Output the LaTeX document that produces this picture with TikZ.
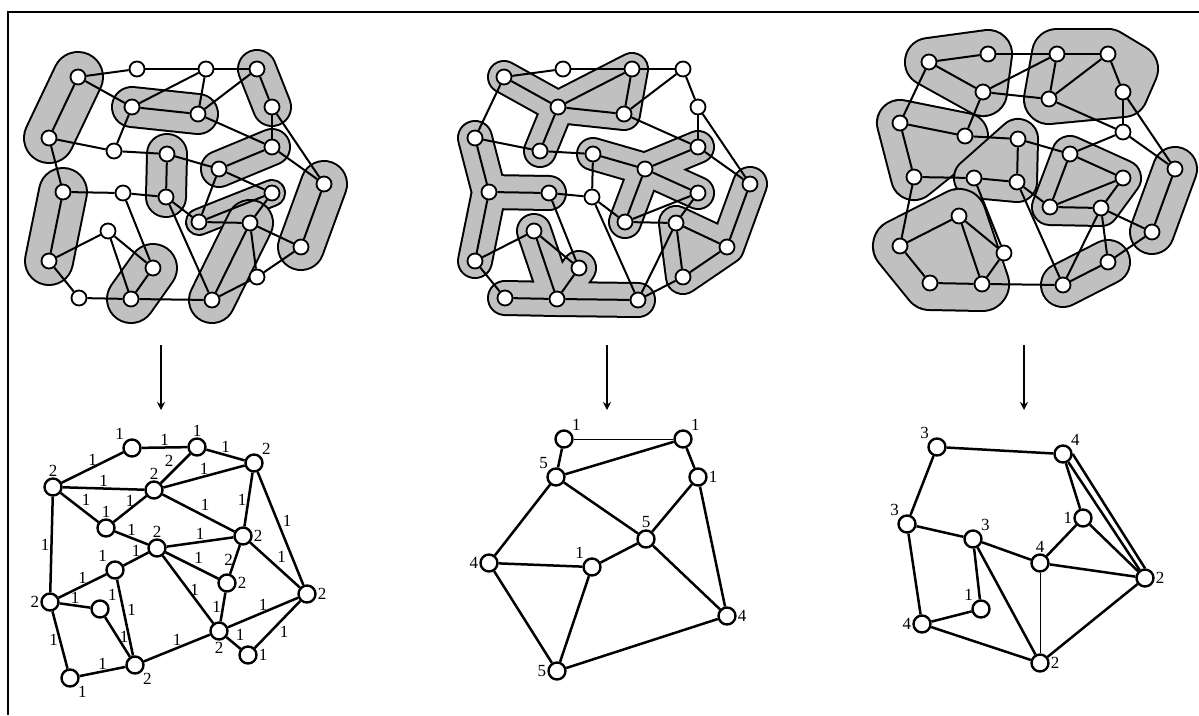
\documentclass[tikz,border=0pt]{standalone}
\usepackage{fontspec}
\setmainfont{Liberation Serif}
\usetikzlibrary{arrows.meta, backgrounds}
\definecolor{clustergrey}{RGB}{192,192,192}

% the 27-vertex graph that all three top pictures share
\newcommand{\basegraph}[1]{%
  \foreach \n/\x/\y in {1/78/77, 2/137/69, 3/206/69, 4/257/69, 5/132/107, 6/198/114,
      7/272/107, 8/49/138, 9/114/151, 10/167/154, 11/272/147, 12/219/169, 13/63/192,
      14/123/193, 15/166/197, 16/272/193, 17/324/184, 18/199/222, 19/250/223,
      20/108/231, 21/301/247, 22/49/261, 23/153/268, 24/257/277, 25/79/298,
      26/131/299, 27/212/300}
    \node[vtx] (#1\n) at (\x,\y) {};
  \foreach \s/\t in {1/2, 2/3, 3/4, 1/5, 5/3, 3/6, 6/4, 4/7, 6/11, 7/11, 7/17, 5/9,
      8/9, 9/10, 1/8, 5/6, 8/13, 10/15, 10/12, 11/12, 11/17, 13/14, 14/15, 13/22,
      14/23, 15/18, 15/27, 12/18, 12/16, 16/18, 18/19, 16/19, 19/21, 17/21, 19/27,
      19/24, 24/21, 24/27, 20/22, 20/23, 20/26, 22/25, 25/26, 26/27, 23/26}
    \draw[link] (#1\s) -- (#1\t);
}
% grey cluster with black rim
\newcommand{\cluster}[2]{%
  \draw[clusterrim, line width=#1+4] #2;
  \draw[clusterbody, line width=#1] #2;
}

\begin{document}
\begin{tikzpicture}[
    x=1pt, y=-1pt,
    vtx/.style={circle, draw, fill=white, line width=1.8pt, minimum size=15pt, inner sep=0pt},
    vtxb/.style={circle, draw, fill=white, line width=2.4pt, minimum size=17pt, inner sep=0pt},
    link/.style={line width=2pt},
    linkb/.style={line width=2.5pt},
    thinlink/.style={line width=1pt},
    wt/.style={font=\fontsize{17}{17}\selectfont, inner sep=1pt},
    flow/.style={-{Stealth[length=8pt, width=8pt]}, line width=2.6pt},
    framelines/.style={line width=2.2pt},
    clusterrim/.style={draw=black, fill=black, line cap=round, line join=round},
    clusterbody/.style={draw=clustergrey, fill=clustergrey, line cap=round, line join=round}
]
\useasboundingbox (0,0) rectangle (1199,715);

% Frame
\draw[framelines] (8,715) -- (8,12) -- (1199,12);

% Top graphs
\basegraph{a}
\begin{scope}[shift={(426,0)}]
  \basegraph{m}
\end{scope}
\begin{scope}[shift={(851,-15)}]
  \basegraph{r}
\end{scope}

% Clusters
\begin{scope}[on background layer]
  % pairs
  \cluster{48}{(a1.center) -- (a8.center)}
  \cluster{38}{(a5.center) -- (a6.center)}
  \cluster{36}{(a4.center) -- (a7.center)}
  \cluster{38}{(a10.center) -- (a15.center)}
  \cluster{34}{(a11.center) -- (a12.center)}
  \cluster{24}{(a16.center) -- (a18.center)}
  \cluster{44}{(a17.center) -- (a21.center)}
  \cluster{46}{(a13.center) -- (a22.center)}
  \cluster{46}{(a23.center) -- (a26.center)}
  \cluster{44}{(a19.center) -- (a27.center)}
  % corridors
  \cluster{30}{(m1.center) -- (m5.center) -- (m9.center) -- (m5.center) -- (m3.center) -- (m6.center) -- (m5.center) -- (m1.center)}
  \cluster{32}{(m8.center) -- (m13.center) -- (m22.center) -- (m13.center) -- (m14.center) -- (m13.center) -- (m8.center)}
  \cluster{30}{(m10.center) -- (m12.center) -- (m11.center) -- (m12.center) -- (m16.center) -- (m12.center) -- (m18.center) -- (m12.center) -- (m10.center)}
  \cluster{32}{(m17.center) -- (m21.center) -- (m24.center) -- (m19.center) -- (m21.center) -- (m17.center)}
  \cluster{32}{(m25.center) -- (m26.center) -- (m20.center) -- (m26.center) -- (m23.center) -- (m26.center) -- (m27.center) -- (m26.center) -- (m25.center)}
  % regions
  \cluster{46}{(r1.center) -- (r2.center) -- (r5.center) -- cycle}
  \cluster{48}{(r3.center) -- (r4.center) -- ([xshift=25pt, yshift=-15pt]r4.center) -- (r7.center) -- (r6.center) -- cycle}
  \cluster{44}{(r8.center) -- (r9.center) -- (r13.center) -- cycle}
  \cluster{38}{(r10.center) -- (r15.center) -- (r14.center) -- cycle}
  \cluster{34}{(r12.center) -- (r16.center) -- (r19.center) -- (r18.center) -- cycle}
  \cluster{42}{(r17.center) -- (r21.center)}
  \cluster{52}{(r20.center) -- (r26.center) -- (r25.center) -- (r22.center) -- cycle}
  \cluster{42}{(r24.center) -- (r27.center)}
\end{scope}

% Arrows
\coordinate (arrA0) at (161,345); \coordinate (arrA1) at (161,410);
\coordinate (arrB0) at (607,345); \coordinate (arrB1) at (607,410);
\coordinate (arrC0) at (1024,345); \coordinate (arrC1) at (1024,410);
\draw[flow] (arrA0) -- (arrA1);
\draw[flow] (arrB0) -- (arrB1);
\draw[flow] (arrC0) -- (arrC1);

% Bottom left
\node[vtxb, label={[wt]above left:1}] (b1) at (132,448) {};
\node[vtxb, label={[wt]above:1}] (b2) at (197,447) {};
\node[vtxb, label={[wt]above right:2}] (b3) at (254,463) {};
\node[vtxb, label={[wt]above:2}] (b4) at (53,487) {};
\node[vtxb, label={[wt]above:2}] (b5) at (154,490) {};
\node[vtxb, label={[wt]above:1}] (b6) at (106,528) {};
\node[vtxb, label={[wt]right:2}] (b7) at (243,536) {};
\node[vtxb, label={[wt]above:2}] (b8) at (157,548) {};
\node[vtxb, label={[wt]above left:1}] (b9) at (115,570) {};
\node[vtxb, label={[wt]right:2}] (b10) at (227,583) {};
\node[vtxb, label={[wt]right:2}] (b11) at (307,594) {};
\node[vtxb, label={[wt]left:2}] (b12) at (50,602) {};
\node[vtxb, label={[wt]above right:1}] (b13) at (100,609) {};
\node[vtxb, label={[wt]below:2}] (b14) at (219,631) {};
\node[vtxb, label={[wt]right:1}] (b15) at (248,655) {};
\node[vtxb, label={[wt]below right:2}] (b16) at (135,665) {};
\node[vtxb, label={[wt]below right:1}] (b17) at (70,678) {};

\draw[linkb] (b1) -- node[wt, above] {1} (b2);
\draw[linkb] (b2) -- node[wt, above] {1} (b3);
\draw[linkb] (b4) -- node[wt, above] {1} (b1);
\draw[linkb] (b5) -- node[wt, above left] {2} (b2);
\draw[linkb] (b5) -- node[wt, above] {1} (b3);
\draw[linkb] (b4) -- node[wt, above] {1} (b5);
\draw[linkb] (b4) -- node[wt, above right] {1} (b6);
\draw[linkb] (b6) -- node[wt, above] {1} (b5);
\draw[linkb] (b5) -- node[wt, above right] {1} (b7);
\draw[linkb] (b3) -- node[wt, left] {1} (b7);
\draw[linkb] (b3) -- node[wt, above right] {1} (b11);
\draw[linkb] (b6) -- node[wt, above] {1} (b8);
\draw[linkb] (b8) -- node[wt, above] {1} (b7);
\draw[linkb] (b4) -- node[wt, left] {1} (b12);
\draw[linkb] (b9) -- node[wt, above] {1} (b8);
\draw[linkb] (b8) -- node[wt, above right] {1} (b10);
\draw[linkb] (b7) -- node[wt, left] {2} (b10);
\draw[linkb] (b7) -- node[wt, above right] {1} (b11);
\draw[linkb] (b12) -- node[wt, above] {1} (b9);
\draw[linkb] (b12) -- node[wt, above] {1} (b13);
\draw[linkb] (b9) -- node[wt, above right] {1} (b16);
\draw[linkb] (b8) -- node[wt, right] {1} (b14);
\draw[linkb] (b10) -- node[wt, left] {1} (b14);
\draw[linkb] (b14) -- node[wt, above] {1} (b11);
\draw[linkb] (b13) -- node[wt, right] {1} (b16);
\draw[linkb] (b12) -- node[wt, left] {1} (b17);
\draw[linkb] (b14) -- node[wt, above right] {1} (b15);
\draw[linkb] (b11) -- node[wt, below right] {1} (b15);
\draw[linkb] (b16) -- node[wt, above] {1} (b14);
\draw[linkb] (b17) -- node[wt, above] {1} (b16);

% Bottom middle
\node[vtxb, label={[wt]above right:1}] (p1) at (564,439) {};
\node[vtxb, label={[wt]above right:1}] (p2) at (683,439) {};
\node[vtxb, label={[wt]above left:5}] (p3) at (556,477) {};
\node[vtxb, label={[wt]right:1}] (p4) at (698,477) {};
\node[vtxb, label={[wt]above:5}] (p5) at (646,539) {};
\node[vtxb, label={[wt]left:4}] (p6) at (489,563) {};
\node[vtxb, label={[wt]above left:1}] (p7) at (592,567) {};
\node[vtxb, label={[wt]right:4}] (p8) at (727,616) {};
\node[vtxb, label={[wt]left:5}] (p9) at (557,671) {};

\draw[thinlink] (p1) -- (p2);
\draw[linkb] (p1) -- (p3);
\draw[linkb] (p3) -- (p2);
\draw[linkb] (p2) -- (p4);
\draw[linkb] (p3) -- (p5);
\draw[linkb] (p4) -- (p5);
\draw[linkb] (p3) -- (p6);
\draw[linkb] (p6) -- (p7);
\draw[linkb] (p7) -- (p5);
\draw[linkb] (p5) -- (p8);
\draw[linkb] (p4) -- (p8);
\draw[linkb] (p6) -- (p9);
\draw[linkb] (p7) -- (p9);
\draw[linkb] (p9) -- (p8);

% Bottom right
\node[vtxb, label={[wt]above left:3}] (q1) at (937,447) {};
\node[vtxb, label={[wt]above right:4}] (q2) at (1063,454) {};
\node[vtxb, label={[wt]above left:3}] (q3) at (907,524) {};
\node[vtxb, label={[wt]above right:3}] (q4) at (973,539) {};
\node[vtxb, label={[wt]left:1}] (q5) at (1083,518) {};
\node[vtxb, label={[wt]above:4}] (q6) at (1040,563) {};
\node[vtxb, label={[wt]right:2}] (q7) at (1145,578) {};
\node[vtxb, label={[wt]above left:1}] (q8) at (981,609) {};
\node[vtxb, label={[wt]left:4}] (q9) at (922,624) {};
\node[vtxb, label={[wt]right:2}] (q10) at (1040,663) {};

\draw[linkb] (q1) -- (q2);
\draw[linkb] (q1) -- (q3);
\draw[linkb] (q2) -- (q5);
\draw[linkb] (q2) -- (q7);
\draw[linkb] (q2.east) -- (q7.north);
\draw[linkb] (q5) -- (q7);
\draw[linkb] (q5) -- (q6);
\draw[linkb] (q3) -- (q4);
\draw[linkb] (q4) -- (q6);
\draw[linkb] (q6) -- (q7);
\draw[thinlink] (q6) -- (q10);
\draw[linkb] (q4) -- (q8);
\draw[linkb] (q4) -- (q10);
\draw[linkb] (q3) -- (q9);
\draw[linkb] (q9) -- (q8);
\draw[linkb] (q9) -- (q10);
\draw[linkb] (q10) -- (q7);

\end{tikzpicture}
\end{document}
